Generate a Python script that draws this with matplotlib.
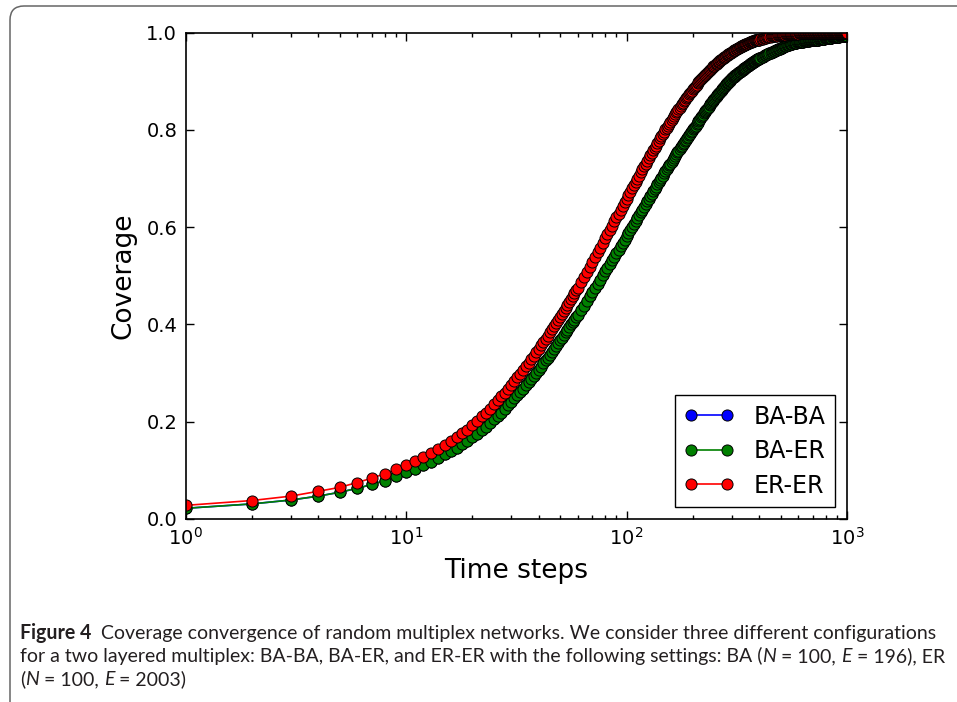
import matplotlib
matplotlib.use('Agg')
import matplotlib.pyplot as plt
from matplotlib.patches import FancyBboxPatch
from matplotlib.transforms import IdentityTransform
from matplotlib.ticker import FormatStrFormatter

# time steps at which the curves were read (1..1000, log axis)
steps = list(range(1, 61)) + list(range(62, 401, 2)) + list(range(405, 1001, 5))

# coverage values
er_er = [0.028, 0.038, 0.047, 0.057, 0.065, 0.075, 0.084, 0.093, 0.102, 0.111,
         0.119, 0.128, 0.136, 0.144, 0.152, 0.160, 0.168, 0.176, 0.184, 0.193,
         0.202, 0.211, 0.219, 0.227, 0.236, 0.244, 0.252, 0.260, 0.268, 0.276,
         0.283, 0.291, 0.299, 0.306, 0.314, 0.321, 0.328, 0.335, 0.343, 0.350,
         0.357, 0.363, 0.370, 0.377, 0.384, 0.390, 0.397, 0.403, 0.410, 0.416,
         0.422, 0.428, 0.434, 0.440, 0.446, 0.452, 0.458, 0.464, 0.470, 0.475,
         # 62..400, every 2
         0.487, 0.498, 0.508, 0.519, 0.529, 0.539, 0.549, 0.558, 0.568, 0.577,
         0.586, 0.595, 0.603, 0.612, 0.620, 0.628, 0.636, 0.644, 0.651, 0.659,
         0.666, 0.673, 0.680, 0.687, 0.694, 0.700, 0.706, 0.713, 0.719, 0.725,
         0.731, 0.736, 0.742, 0.748, 0.753, 0.758, 0.763, 0.768, 0.773, 0.778,
         0.783, 0.787, 0.792, 0.796, 0.801,
         0.805, 0.809, 0.813, 0.817, 0.821, 0.825, 0.829, 0.832, 0.836, 0.839,
         0.843, 0.846, 0.849, 0.853, 0.856, 0.859, 0.862, 0.865, 0.868, 0.870,
         0.873, 0.876, 0.879, 0.881, 0.884, 0.886, 0.889, 0.891, 0.893, 0.896,
         0.898, 0.900, 0.902, 0.904, 0.906, 0.908, 0.910, 0.912, 0.914, 0.916,
         0.918, 0.919, 0.921, 0.923, 0.924, 0.926, 0.927, 0.929, 0.931, 0.932,
         0.933, 0.935, 0.936, 0.938, 0.939, 0.940, 0.941, 0.943, 0.944, 0.945,
         0.946, 0.947, 0.949, 0.950, 0.951, 0.952, 0.953, 0.954, 0.955, 0.956,
         0.957, 0.958, 0.959, 0.959, 0.960, 0.961, 0.962, 0.963, 0.964, 0.964,
         0.965, 0.966, 0.967, 0.967, 0.968, 0.969, 0.969, 0.970, 0.971, 0.971,
         0.972, 0.972, 0.973, 0.974, 0.974, 0.975, 0.975, 0.976, 0.976, 0.977,
         0.977, 0.978, 0.978, 0.979, 0.979, 0.980, 0.980, 0.981, 0.981, 0.981,
         0.982, 0.982, 0.982, 0.983, 0.983, 0.984, 0.984, 0.984, 0.985, 0.985,
         0.985, 0.986, 0.986, 0.986, 0.986,
         # 405..1000, every 5
         0.987, 0.988, 0.988, 0.989, 0.990, 0.990, 0.991, 0.991, 0.992, 0.992,
         0.993, 0.993, 0.993, 0.994, 0.994, 0.994, 0.995, 0.995, 0.995, 0.995,
         0.996, 0.996, 0.996, 0.996, 0.996, 0.997, 0.997, 0.997, 0.997, 0.997,
         0.997, 0.998, 0.998, 0.998, 0.998, 0.998, 0.998, 0.998, 0.998, 0.998,
         0.999, 0.999, 0.999, 0.999, 0.999, 0.999, 0.999, 0.999, 0.999, 0.999,
         0.999, 0.999, 0.999, 0.999, 0.999, 0.999, 0.999, 0.999, 0.999, 0.999,
         0.999, 0.999, 0.999, 0.999, 0.999, 0.999, 0.999, 0.999, 0.999, 0.999,
         0.999, 0.999, 0.999, 0.999, 0.999, 0.999, 0.999, 0.999, 0.999, 0.999,
         0.999, 0.999, 0.999, 0.999, 0.999, 0.999, 0.999, 0.999, 0.999, 0.999,
         0.999, 0.999, 0.999, 0.999, 0.999, 0.999, 0.999, 0.999, 0.999, 0.999,
         0.999, 0.999, 0.999, 0.999, 0.999, 0.999, 0.999, 0.999, 0.999, 0.999,
         0.999, 0.999, 0.999, 0.999, 0.999, 0.999, 0.999, 0.999, 0.999, 1.000]

ba_er = [0.022, 0.031, 0.039, 0.047, 0.055, 0.063, 0.071, 0.079, 0.088, 0.096,
         0.103, 0.111, 0.118, 0.125, 0.133, 0.140, 0.147, 0.154, 0.161, 0.168,
         0.175, 0.183, 0.190, 0.198, 0.205, 0.212, 0.219, 0.227, 0.234, 0.241,
         0.248, 0.254, 0.261, 0.268, 0.275, 0.281, 0.288, 0.294, 0.301, 0.307,
         0.313, 0.320, 0.326, 0.332, 0.338, 0.344, 0.350, 0.356, 0.362, 0.368,
         0.373, 0.379, 0.384, 0.389, 0.395, 0.400, 0.405, 0.410, 0.415, 0.420,
         # 62..400, every 2
         0.430, 0.439, 0.448, 0.458, 0.467, 0.475, 0.484, 0.492, 0.501, 0.509,
         0.516, 0.524, 0.532, 0.539, 0.547, 0.554, 0.561, 0.568, 0.574, 0.581,
         0.588, 0.594, 0.600, 0.607, 0.613, 0.619, 0.625, 0.631, 0.636, 0.642,
         0.648, 0.653, 0.658, 0.664, 0.669, 0.674, 0.679, 0.683, 0.688, 0.693,
         0.698, 0.702, 0.706, 0.711, 0.715,
         0.719, 0.723, 0.727, 0.731, 0.735, 0.739, 0.743, 0.747, 0.750, 0.754,
         0.757, 0.761, 0.764, 0.768, 0.771, 0.774, 0.777, 0.780, 0.783, 0.786,
         0.789, 0.792, 0.795, 0.798, 0.801, 0.804, 0.807, 0.809, 0.812, 0.815,
         0.818, 0.821, 0.823, 0.826, 0.829, 0.831, 0.834, 0.836, 0.839, 0.841,
         0.843, 0.846, 0.848, 0.851, 0.853, 0.855, 0.857, 0.859, 0.862, 0.864,
         0.866, 0.868, 0.870, 0.871, 0.873, 0.875, 0.877, 0.879, 0.881, 0.883,
         0.885, 0.886, 0.888, 0.889, 0.891, 0.893, 0.894, 0.896, 0.897, 0.899,
         0.900, 0.901, 0.903, 0.904, 0.906, 0.907, 0.908, 0.909, 0.910, 0.911,
         0.912, 0.913, 0.915, 0.916, 0.917, 0.918, 0.919, 0.919, 0.920, 0.921,
         0.922, 0.923, 0.924, 0.925, 0.926, 0.927, 0.928, 0.928, 0.929, 0.930,
         0.931, 0.932, 0.932, 0.933, 0.934, 0.935, 0.936, 0.936, 0.937, 0.938,
         0.938, 0.939, 0.940, 0.940, 0.941, 0.942, 0.942, 0.943, 0.943, 0.944,
         0.945, 0.945, 0.946, 0.946, 0.947,
         # 405..1000, every 5
         0.949, 0.950, 0.951, 0.952, 0.954, 0.955, 0.956, 0.957, 0.958, 0.959,
         0.960, 0.961, 0.962, 0.963, 0.964, 0.965, 0.966, 0.967, 0.967, 0.968,
         0.969, 0.970, 0.971, 0.972, 0.972, 0.973, 0.974, 0.974, 0.975, 0.976,
         0.976, 0.977, 0.977, 0.978, 0.978, 0.979, 0.979, 0.979, 0.980, 0.980,
         0.980, 0.980, 0.981, 0.981, 0.981, 0.981, 0.982, 0.982, 0.982, 0.982,
         0.983, 0.983, 0.983, 0.983, 0.984, 0.984, 0.984, 0.984, 0.985, 0.985,
         0.985, 0.985, 0.986, 0.986, 0.986, 0.986, 0.986, 0.986, 0.987, 0.987,
         0.987, 0.987, 0.988, 0.988, 0.988, 0.988, 0.988, 0.988, 0.989, 0.989,
         0.989, 0.989, 0.989, 0.989, 0.990, 0.990, 0.990, 0.990, 0.990, 0.990,
         0.991, 0.991, 0.991, 0.991, 0.991, 0.991, 0.992, 0.992, 0.992, 0.992,
         0.992, 0.992, 0.992, 0.992, 0.993, 0.993, 0.993, 0.993, 0.993, 0.993,
         0.993, 0.993, 0.993, 0.993, 0.994, 0.994, 0.994, 0.994, 0.994, 0.994]

# BA-BA sits underneath BA-ER over the whole range
ba_ba = list(ba_er)

assert len(er_er) == len(steps) == len(ba_er)

series = [('BA-BA', ba_ba, 'b'), ('BA-ER', ba_er, 'g'), ('ER-ER', er_er, 'r')]

plt.rcParams['font.family'] = 'DejaVu Sans'
plt.rcParams['mathtext.fontset'] = 'dejavusans'

W, H = 957, 702
fig = plt.figure(figsize=(W / 100, H / 100), dpi=100)
ax = fig.add_axes([185.5 / W, 1 - 519 / H, (847 - 185.5) / W, (519 - 32.7) / H])

for name, vals, col in series:
    ax.plot(steps, vals, '-o', color=col, lw=1.2, ms=8, mec='k', mew=0.7, label=name)

ax.set_xscale('log')
ax.set_xlim(1, 1000)
ax.set_ylim(0, 1)
ax.set_yticks([0.0, 0.2, 0.4, 0.6, 0.8, 1.0])
ax.yaxis.set_major_formatter(FormatStrFormatter('%.1f'))
ax.tick_params(which='both', direction='in', top=True, right=True, labelsize=14, pad=6)
ax.tick_params(which='major', length=6, width=1)
ax.tick_params(which='minor', length=3, width=1)
for sp in ax.spines.values():
    sp.set_linewidth(1.2)

ax.set_xlabel('Time steps', fontsize=19, labelpad=6)
ax.set_ylabel('Coverage', fontsize=19, labelpad=7)

ax.legend(loc='lower right', numpoints=2, fontsize=17, fancybox=False,
          edgecolor='k', framealpha=1, handlelength=2.1, handletextpad=0.85,
          labelspacing=0.45, borderpad=0.4)

# frame around figure + caption
frame = FancyBboxPatch((10, -40), 1000, 696 + 40, boxstyle='round,pad=0,rounding_size=14',
                       transform=IdentityTransform(), fc='none', ec='#666666', lw=1.1)
fig.add_artist(frame)

cap_font = 'Lato'
cap_col = '#231f20'
caption = [
    [('Figure 4', {'fontweight': 'bold'}),
     ('  Coverage convergence of random multiplex networks. We consider three different configurations', {})],
    [('for a two layered multiplex: BA-BA, BA-ER, and ER-ER with the following settings: BA (', {}),
     ('N', {'style': 'italic'}), (' = 100, ', {}), ('E', {'style': 'italic'}), (' = 196), ER', {})],
    [('(', {}), ('N', {'style': 'italic'}), (' = 100, ', {}), ('E', {'style': 'italic'}), (' = 2003)', {})],
]
baselines = [639, 662, 685]

renderer = fig.canvas.get_renderer()


def draw_line(pieces, y, size):
    x = 20
    made = []
    for s, kw in pieces:
        t = fig.text(x / W, 1 - y / H, s, fontsize=size, family=cap_font, color=cap_col,
                     ha='left', va='baseline', **kw)
        x += t.get_window_extent(renderer).width
        made.append(t)
    return made, x - 20


# fit caption size so the first line spans the same width as in the figure
probe, width = draw_line(caption[0], baselines[0], 13)
for t in probe:
    t.remove()
size = 13 * 915 / width
for pieces, y in zip(caption, baselines):
    draw_line(pieces, y, size)

fig.savefig('out.png', dpi=100)
